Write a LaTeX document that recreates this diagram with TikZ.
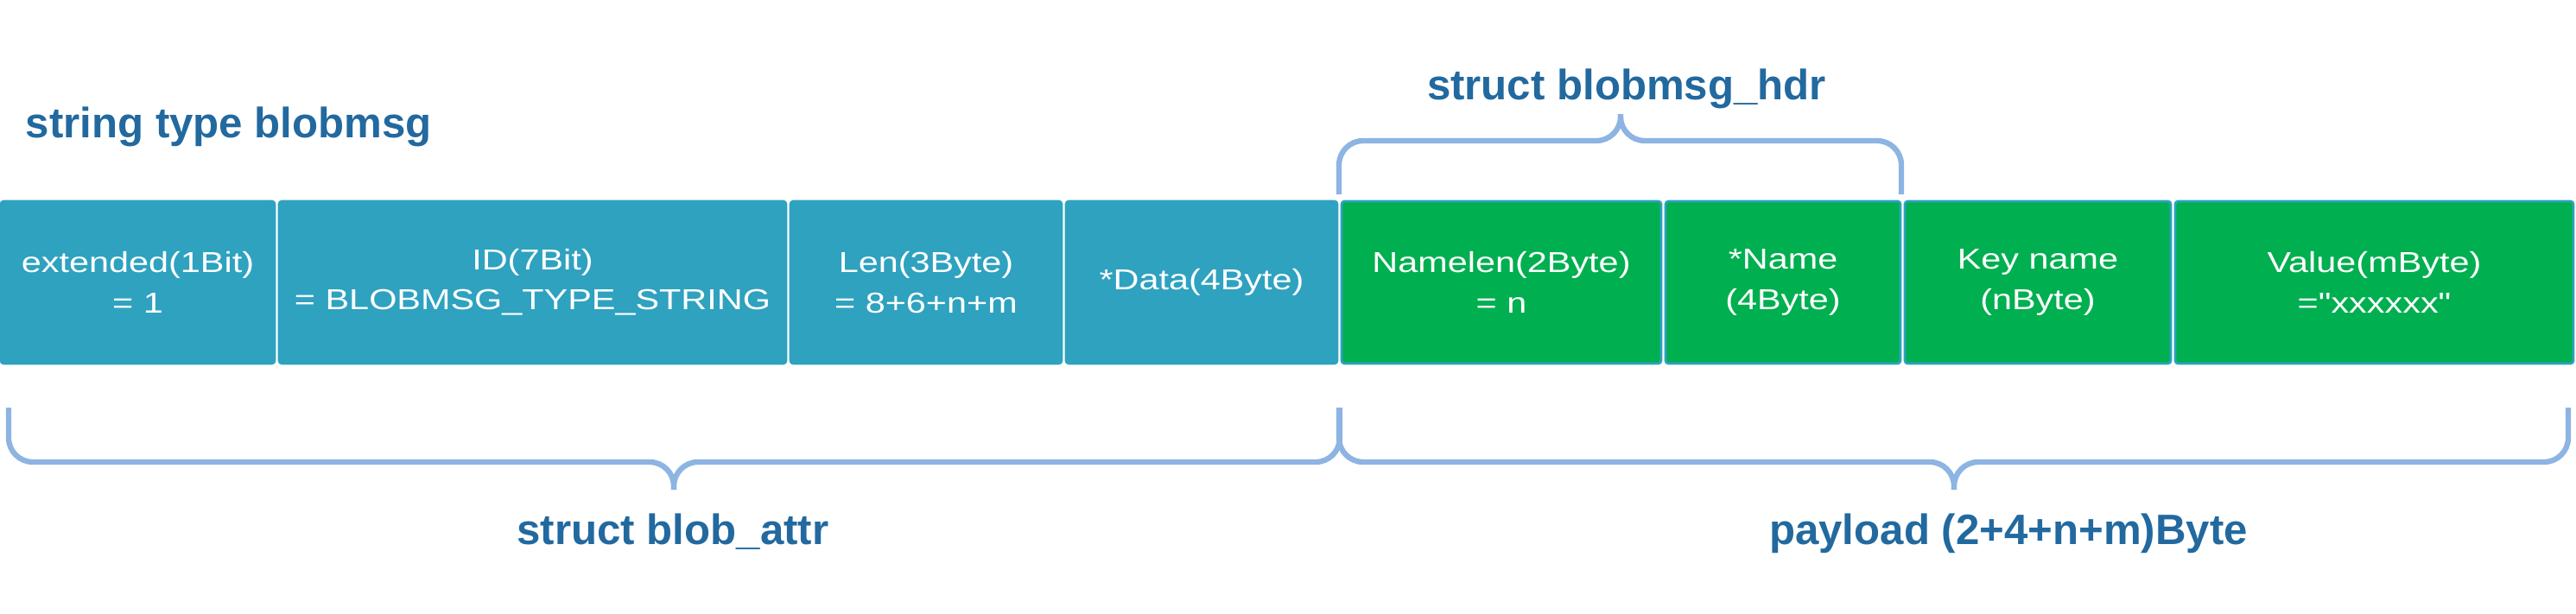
\documentclass[tikz,border=0pt]{standalone}
\usepackage{fontspec}
\setmainfont{Liberation Sans}
\newfontfamily\fieldfont[FakeStretch=1.24]{Liberation Sans}
\usepackage{tikz}
\usetikzlibrary{positioning}
\definecolor{fieldblue}{HTML}{2EA2BF}
\definecolor{fieldgreen}{HTML}{00AF50}
\definecolor{titleblue}{HTML}{22699F}
\definecolor{bracket}{HTML}{8DB4E2}
\tikzset{
  field/.style={draw=fieldblue,line width=0.8pt,fill=fieldblue,rounded corners=1pt,minimum height=1.88cm,inner sep=0pt,outer sep=0pt,text=white,align=center,font=\fieldfont\fontsize{9.5}{13.2}\selectfont},
  hdrfield/.style={field,fill=fieldgreen},
  title/.style={font=\bfseries\fontsize{14}{16}\selectfont,text=titleblue,inner sep=0pt},
  brk/.style={draw=bracket,line width=1.8pt,rounded corners=0.28cm},
}

\begin{document}
\begin{tikzpicture}
\useasboundingbox (0,0) rectangle (29.82,-7.10);
% blob_attr fields
\node[field,minimum width=3.17cm,anchor=north west] (ext) at (0.01,-2.33) {extended(1Bit)\\= 1};
\node[field,minimum width=5.87cm,right=0.05cm of ext] (id) {ID(7Bit)\\= BLOBMSG\_TYPE\_STRING};
\node[field,minimum width=3.14cm,right=0.05cm of id] (len) {Len(3Byte)\\= 8+6+n+m};
\node[field,minimum width=3.14cm,right=0.05cm of len] (data) {*Data(4Byte)};
% payload fields
\node[hdrfield,minimum width=3.70cm,right=0.05cm of data] (namelen) {Namelen(2Byte)\\= n};
\node[hdrfield,minimum width=2.72cm,right=0.05cm of namelen] (name) {*Name\\(4Byte)};
\node[hdrfield,minimum width=3.08cm,right=0.05cm of name] (key) {Key name\\(nByte)};
\node[hdrfield,minimum width=4.61cm,right=0.05cm of key] (value) {Value(mByte)\\="xxxxxx"};

\node[title,anchor=base west] (kind) at (0.29,-1.59) {string type blobmsg};
\node[title,anchor=base] (hdr) at (18.83,-1.15) {struct blobmsg\_hdr};
\node[title,anchor=base] (attr) at (7.79,-6.30) {struct blob\_attr};
\node[title,anchor=base] (payload) at (23.25,-6.30) {payload (2+4+n+m)Byte};

% braces
\draw[brk] (15.50,-2.25) |- (18.76,-1.63) -- (18.76,-1.32);
\draw[brk] (22.01,-2.25) |- (18.76,-1.63) -- (18.76,-1.32);
\draw[brk] (0.10,-4.72) |- (7.80,-5.35) -- (7.80,-5.67);
\draw[brk] (15.51,-4.72) |- (7.80,-5.35) -- (7.80,-5.67);
\draw[brk] (15.50,-4.72) |- (22.62,-5.35) -- (22.62,-5.67);
\draw[brk] (29.73,-4.72) |- (22.62,-5.35) -- (22.62,-5.67);
\end{tikzpicture}
\end{document}
